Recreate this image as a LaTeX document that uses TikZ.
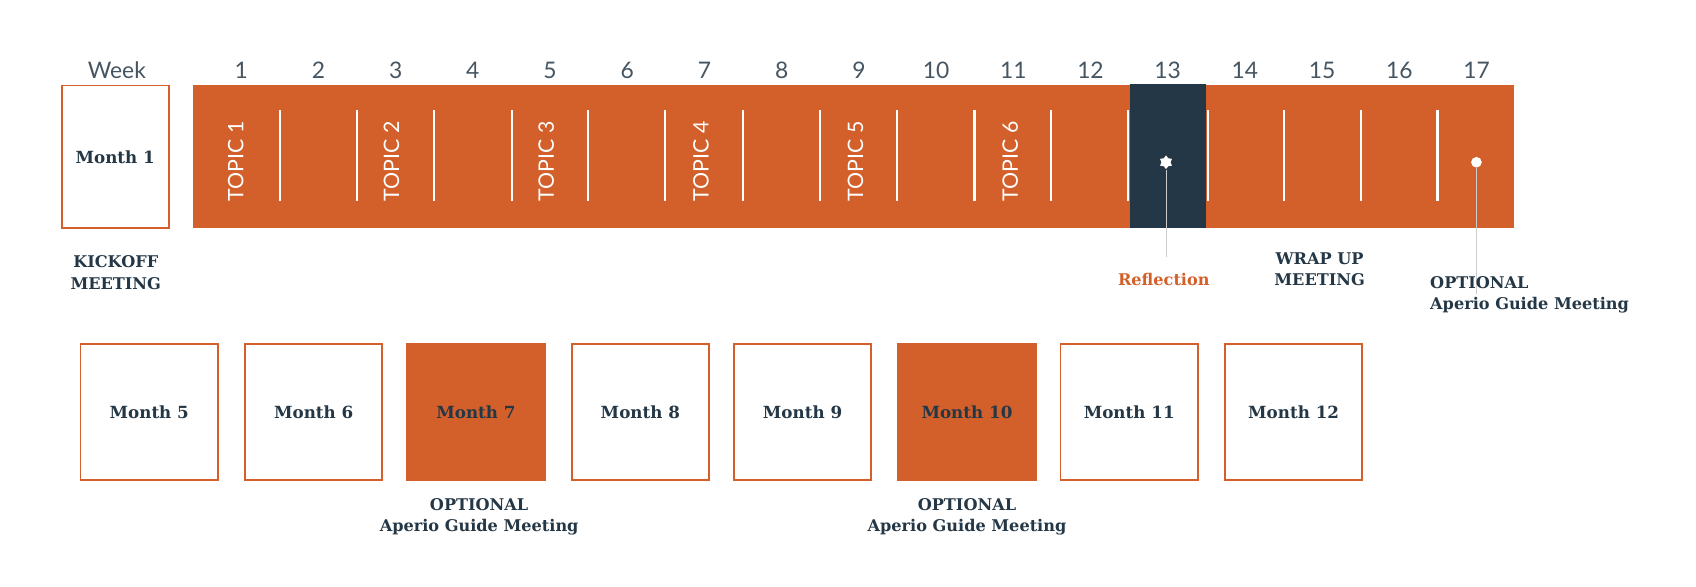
\documentclass[tikz,border=0pt]{standalone}
\usepackage{fontspec}
\setmainfont{DejaVu Serif}
\newfontfamily\lato{Lato}
\usetikzlibrary{shapes.geometric}
\definecolor{org}{HTML}{D3602A}
\definecolor{navy}{HTML}{243746}
\definecolor{txt}{HTML}{243746}
\begin{document}
\begin{tikzpicture}[x=0.025cm,y=-0.025cm,
  wk/.style={font=\lato\fontsize{15}{17}\selectfont, text=txt!85},
  topic/.style={font=\lato\fontsize{14}{16}\selectfont, text=white, rotate=90},
  lbl/.style={font=\bfseries\fontsize{10.6}{14}\selectfont, text=txt, align=center, inner sep=0pt},
  mon/.style={draw=org, line width=1.2pt, fill=white, minimum width=127*0.025cm, minimum height=126*0.025cm, font=\bfseries\fontsize{11}{13}\selectfont, text=txt},
  monf/.style={mon, fill=org},
  sep/.style={white, line width=1.4pt}]
\useasboundingbox (0,0) rectangle (1568,542);
% week labels
\node[wk] (week) at (108,65) {Week};
\foreach \i in {1,...,17} { \node[wk] (w\i) at ({223+(\i-1)*71.38},65) {\i}; }
% month 1
\node[mon, minimum width=99*0.025cm, minimum height=132*0.025cm] (m1) at (106.5,145) {Month 1};
\node[lbl] (kick) at (107,252) {KICKOFF\\MEETING};
% bar
\fill[org] (178,79) rectangle (1400,211);
\fill[navy] (1045,78) rectangle (1115,211);
\foreach \x in {259,330,401,473,544,615,687,758,829,901,972,1043,1117,1187,1258,1329} { \draw[sep] (\x,102) -- (\x,186); }
\foreach \t/\x in {1/218,2/362,3/505,4/648,5/791,6/934} { \node[topic] (t\t) at (\x,149) {TOPIC \t}; }
% reflection
\node[star, star points=6, fill=white, inner sep=0pt, minimum size=9pt] (star) at (1078,150) {};
\coordinate (rl) at (1078,238);
\draw[gray!40, line width=0.6pt] (star) -- (rl);
\node[lbl, text=org] (refl) at (1076,258) {Reflection};
% optional dot
\node[circle, fill=white, inner sep=0pt, minimum size=7pt] (dot) at (1365,150) {};
\coordinate (dl) at (1365,272);
\draw[gray!40, line width=0.6pt] (dot) -- (dl);
\node[lbl, align=left, anchor=north west] (opt3) at (1322,255) {OPTIONAL\\Aperio Guide Meeting};
\node[lbl] (wrap) at (1220,249) {WRAP UP\\MEETING};
% bottom months
\foreach \n/\x/\s in {5/138/mon,6/290/mon,7/440/monf,8/592/mon,9/742/mon,10/894/monf,11/1044/mon,12/1196/mon} {
  \node[\s] (m\n) at (\x,381) {Month \n};
}
\node[lbl] (opt1) at (443,478) {OPTIONAL\\Aperio Guide Meeting};
\node[lbl] (opt2) at (894,478) {OPTIONAL\\Aperio Guide Meeting};
\end{tikzpicture}
\end{document}
